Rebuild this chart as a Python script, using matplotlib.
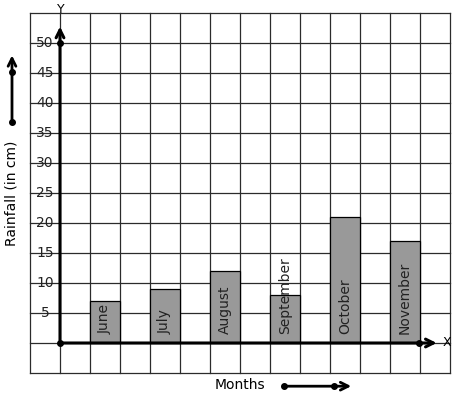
import matplotlib
matplotlib.use("Agg")
import matplotlib.pyplot as plt

months = ["June", "July", "August", "September", "October", "November"]
rainfall = [7, 9, 12, 8, 21, 17]
bar_pos = [1.5, 3.5, 5.5, 7.5, 9.5, 11.5]
y_ticks = [5, 10, 15, 20, 25, 30, 35, 40, 45, 50]

# one grid cell = 1 unit across, 5 cm up; axes fill the whole figure
fig = plt.figure(figsize=(4.57, 3.99), dpi=100)
ax = fig.add_axes([0, 0, 1, 1])
ax.set_xlim(-2, 397 / 30)
ax.set_ylim(-56 / 6, 343 / 6)
ax.axis("off")

grid_c = "#2b2b2b"
for u in range(-1, 14):
    ax.plot([u, u], [-5, 55], color=grid_c, lw=0.9, zorder=1)
for v in range(-5, 56, 5):
    ax.plot([-1, 13], [v, v], color=grid_c, lw=0.9, zorder=1)

ax.bar(bar_pos, rainfall, width=1, color="#999999", edgecolor="black",
       linewidth=0.9, zorder=2)
for x, name in zip(bar_pos, months):
    ax.text(x, 1.5, name, rotation=90, ha="center", va="bottom",
            fontsize=10, color="#222222", zorder=3)

for v in y_ticks:
    ax.text(-0.5, v, str(v), ha="center", va="center", fontsize=10,
            color="#222222", zorder=3)

# axes with arrows
ax.annotate("", xy=(0, 53.2), xytext=(0, 0),
            arrowprops=dict(arrowstyle="->", lw=2.2, color="black",
                            mutation_scale=14), zorder=4)
ax.annotate("", xy=(12.65, 0), xytext=(0, 0),
            arrowprops=dict(arrowstyle="->", lw=2.2, color="black",
                            mutation_scale=14), zorder=4)
ax.plot([0, 0, 11.95], [0, 50, 0], "o", color="black", ms=4, zorder=5)
ax.text(0.03, 55.6, "Y", ha="center", va="center", fontsize=9)
ax.text(12.9, 0, "X", ha="center", va="center", fontsize=9)

# y label with its arrow
ax.text(-1.6, 25, "Rainfall (in cm)", rotation=90, ha="center", va="center",
        fontsize=10)
ax.annotate("", xy=(-1.6, 48.4), xytext=(-1.6, 36.8),
            arrowprops=dict(arrowstyle="->", lw=2, color="black",
                            mutation_scale=14))
ax.plot([-1.6, -1.6], [36.8, 45.2], "o", color="black", ms=4)

# x label with its arrow
ax.text(6.0, -7, "Months", ha="center", va="center", fontsize=10)
ax.annotate("", xy=(9.8, -7.2), xytext=(7.47, -7.2),
            arrowprops=dict(arrowstyle="->", lw=2, color="black",
                            mutation_scale=14))
ax.plot([7.47, 9.13], [-7.2, -7.2], "o", color="black", ms=4)

fig.savefig("out.png", dpi=100)
